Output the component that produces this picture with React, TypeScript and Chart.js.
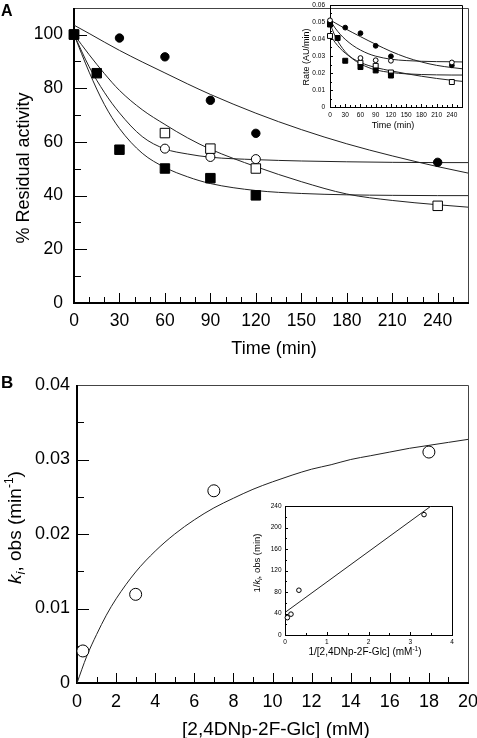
import React, { useEffect, useRef } from "react";
import { Chart, registerables } from "chart.js";
Chart.register(...registerables);

const FAMILY = '"Liberation Sans", Arial, sans-serif';

// ---------- Panel A (main) ----------
const timeTicksA = [0, 30, 60, 90, 120, 150, 180, 210, 240];
const residTicksA = [0, 20, 40, 60, 80, 100];
const fsTimeA = [0, 15, 30, 60, 90, 120];
const fsResidA = [100, 85.6, 57.1, 50.1, 46.5, 40.1];
const fcTimeA = [0, 30, 60, 90, 120, 240];
const fcResidA = [100, 98.7, 91.7, 75.5, 63.2, 52.4];
const osTimeA = [0, 60, 90, 120, 240];
const osResidA = [100, 63.3, 57.5, 50.1, 36.2];
const ocTimeA = [0, 60, 90, 120];
const ocResidA = [100, 57.5, 54.4, 53.6];
const fitTimeA = [0, 10, 20, 30, 45, 60, 75, 90, 120, 150, 180, 210, 240, 260];
const fcFitA = [103.5, 100.4, 97.2, 94.1, 89.8, 85.7, 81.6, 77.7, 70.7, 64.6, 59.3, 54.8, 50.8, 48.4];
const ocFitA = [100, 88, 78.5, 70.8, 62, 57.4, 55.5, 54.3, 53.4, 52.9, 52.6, 52.4, 52.3, 52.3];
const osFitA = [100, 92.5, 85.5, 79.2, 72, 66.5, 61.5, 57.3, 50.8, 45.2, 40.6, 38.2, 36.6, 35.7];
const fsFitA = [100, 86, 74, 65, 55.8, 50.5, 47, 44.5, 41.9, 40.8, 40.3, 40.1, 40, 40];

// ---------- Panel A (inset) ----------
const timeTicksIn = [0, 30, 60, 90, 120, 150, 180, 210, 240];
const rateTicksIn = [0, 0.01, 0.02, 0.03, 0.04, 0.05, 0.06];
const fcTimeIn = [0, 30, 60, 90, 120, 240];
const fcRateIn = [0.05, 0.0467, 0.0434, 0.036, 0.0298, 0.0245];
const ocTimeIn = [0, 60, 90, 120, 240];
const ocRateIn = [0.051, 0.0288, 0.0275, 0.0272, 0.0262];
const osTimeIn = [0, 60, 90, 120, 240];
const osRateIn = [0.0418, 0.026, 0.0242, 0.0203, 0.0147];
const fsTimeIn = [0, 15, 30, 60, 90, 120];
const fsRateIn = [0.0485, 0.0406, 0.0272, 0.0235, 0.0215, 0.0185];
const fcFitIn = [0.0512, 0.0495, 0.0478, 0.0461, 0.0437, 0.0414, 0.0391, 0.0369, 0.0327, 0.0292, 0.0265, 0.0245, 0.0232, 0.0225];
const ocFitIn = [0.0512, 0.0465, 0.0428, 0.0398, 0.0362, 0.0335, 0.0314, 0.0299, 0.0281, 0.0273, 0.0269, 0.0267, 0.0266, 0.0265];
const osFitIn = [0.0425, 0.038, 0.0345, 0.0317, 0.0285, 0.0262, 0.0245, 0.0232, 0.0213, 0.0196, 0.0181, 0.0168, 0.0157, 0.0151];
const fsFitIn = [0.049, 0.0418, 0.0365, 0.0325, 0.0282, 0.0254, 0.0233, 0.0218, 0.0203, 0.0195, 0.0191, 0.0189, 0.0188, 0.0188];

// ---------- Panel B (main) ----------
const concTicksB = [0, 2, 4, 6, 8, 10, 12, 14, 16, 18, 20];
const kTicksB = [0, 0.01, 0.02, 0.03, 0.04];
const concB = [0.3, 3, 7, 18];
const kObsB = [0.0043, 0.0119, 0.0258, 0.031];
const fitConcB = [0, 0.5, 1, 1.5, 2, 3, 4, 5, 6, 7, 8, 9, 10, 11, 12, 13, 14, 15, 16, 17, 18, 19, 20];
const fitKB = [0, 0.0036, 0.0065, 0.0091, 0.0113, 0.0149, 0.0177, 0.02, 0.0219, 0.0235, 0.0248, 0.026, 0.027, 0.0279, 0.0287, 0.0293, 0.03, 0.0305, 0.031, 0.0315, 0.0319, 0.0323, 0.0327];

// ---------- Panel B (inset) ----------
const invConcTicks = [0, 1, 2, 3, 4];
const invKTicks = [0, 40, 80, 120, 160, 200, 240];
const invConc = [0.056, 0.143, 0.333, 3.33];
const invK = [32.3, 38.8, 83.3, 224];
const lineInvConc = [0.02, 3.5];
const lineInvK = [43, 240];

type AxisSpec = {
  min: number; max: number; majors: number[]; minorStep: number;
  majorLen: number; minorLen: number; fontSize: number; pad: number;
};
type TextPart = { t: string; size: number; style?: string; weight?: string; dy?: number };
type TextItem = { x: number; y: number; rot?: boolean; align?: "center" | "left"; parts: TextPart[] };
type Spec = {
  W: number; H: number;
  area: { l: number; t: number; r: number; b: number };
  x: AxisSpec; y: AxisSpec;
  datasets: any[]; texts: TextItem[];
  axisW: number; frameW: number; frameColor: string;
};

const pts = (xs: number[], ys: number[]) => xs.map((x, i) => ({ x, y: ys[i] }));
const markers = (xs: number[], ys: number[], style: string, filled: boolean, r: number) => ({
  data: pts(xs, ys), pointStyle: style, pointRadius: r, pointHoverRadius: r,
  pointBackgroundColor: filled ? "#000" : "#fff", pointBorderColor: "#000",
  pointBorderWidth: 1, showLine: false, clip: false,
});
const curve = (xs: number[], ys: number[]) => ({
  data: pts(xs, ys), showLine: true, pointRadius: 0, pointHoverRadius: 0,
  borderColor: "#222", borderWidth: 1, cubicInterpolationMode: "monotone", fill: false,
});

function minorVals(ax: AxisSpec) {
  const out: number[] = [];
  const n = Math.round((ax.max - ax.min) / ax.minorStep);
  for (let k = 0; k <= n; k++) {
    const v = Math.round((ax.min + k * ax.minorStep) * 1e6) / 1e6;
    if (ax.majors.some((m) => Math.abs(m - v) < 1e-9)) continue;
    if (v >= ax.max - 1e-9) continue;
    out.push(v);
  }
  return out;
}

function fontStr(p: TextPart) {
  return `${p.style || "normal"} ${p.weight || "normal"} ${p.size}px ${FAMILY}`;
}

function makeChart(canvas: HTMLCanvasElement, spec: Spec) {
  const { area } = spec;
  const deco = {
    id: "deco",
    beforeDatasetsDraw(chart: any) {
      const ctx = chart.ctx as CanvasRenderingContext2D;
      const xs = chart.scales.x;
      const ys = chart.scales.y;
      const { left: l, right: r, top: t, bottom: b } = chart.chartArea;
      ctx.save();
      ctx.strokeStyle = "#000";
      ctx.lineWidth = 1;
      ctx.beginPath();
      const xt = (v: number, len: number) => {
        const px = Math.round(xs.getPixelForValue(v)) + 0.5;
        ctx.moveTo(px, b);
        ctx.lineTo(px, b - len);
      };
      const yt = (v: number, len: number) => {
        const py = Math.round(ys.getPixelForValue(v)) + 0.5;
        ctx.moveTo(l, py);
        ctx.lineTo(l + len, py);
      };
      spec.x.majors.forEach((v) => xt(v, spec.x.majorLen));
      minorVals(spec.x).forEach((v) => xt(v, spec.x.minorLen));
      spec.y.majors.forEach((v) => yt(v, spec.y.majorLen));
      minorVals(spec.y).forEach((v) => yt(v, spec.y.minorLen));
      ctx.stroke();
      ctx.strokeStyle = spec.frameColor;
      ctx.lineWidth = spec.frameW;
      ctx.beginPath();
      const o = spec.frameW % 2 === 1 ? 0.5 : 0;
      ctx.moveTo(l, Math.round(t) + o);
      ctx.lineTo(Math.round(r) + o, Math.round(t) + o);
      ctx.lineTo(Math.round(r) + o, b);
      ctx.stroke();
      ctx.strokeStyle = "#000";
      ctx.lineWidth = spec.axisW;
      const oa = spec.axisW % 2 === 1 ? 0.5 : 0;
      ctx.beginPath();
      ctx.moveTo(Math.round(l) + oa, Math.round(t));
      ctx.lineTo(Math.round(l) + oa, Math.round(b) + oa);
      ctx.lineTo(Math.round(r) + 1, Math.round(b) + oa);
      ctx.stroke();
      ctx.restore();
    },
    afterDraw(chart: any) {
      const ctx = chart.ctx as CanvasRenderingContext2D;
      ctx.save();
      ctx.fillStyle = "#000";
      ctx.textBaseline = "alphabetic";
      ctx.textAlign = "left";
      spec.texts.forEach((it) => {
        ctx.save();
        ctx.translate(it.x, it.y);
        if (it.rot) ctx.rotate(-Math.PI / 2);
        let total = 0;
        const widths = it.parts.map((p) => {
          ctx.font = fontStr(p);
          const w = ctx.measureText(p.t).width;
          total += w;
          return w;
        });
        let cx = it.align === "left" ? 0 : -total / 2;
        it.parts.forEach((p, i) => {
          ctx.font = fontStr(p);
          ctx.fillText(p.t, cx, p.dy || 0);
          cx += widths[i];
        });
        ctx.restore();
      });
      ctx.restore();
    },
  };

  const scaleCfg = (ax: AxisSpec, isX: boolean) => ({
    type: "linear",
    position: isX ? "bottom" : "left",
    min: ax.min,
    max: ax.max,
    afterBuildTicks: (s: any) => {
      s.ticks = ax.majors.map((v) => ({ value: v }));
    },
    afterFit: (s: any) => {
      if (isX) s.height = spec.H - area.b;
      else s.width = area.l;
      s.paddingLeft = 0;
      s.paddingRight = 0;
      s.paddingTop = 0;
      s.paddingBottom = 0;
    },
    ticks: {
      autoSkip: false,
      maxRotation: 0,
      minRotation: 0,
      padding: ax.pad,
      color: "#000",
      font: { family: FAMILY, size: ax.fontSize },
      callback: (_v: any, i: number) => String(ax.majors[i]),
    },
    grid: { display: false, drawTicks: false, tickLength: 0 },
    border: { display: false },
  });

  return new Chart(canvas, {
    type: "scatter",
    data: { datasets: spec.datasets },
    options: {
      responsive: false,
      animation: false,
      devicePixelRatio: 1,
      events: [],
      layout: { padding: { left: 0, top: area.t, right: spec.W - area.r, bottom: 0 } },
      plugins: { legend: { display: false }, tooltip: { enabled: false } },
      scales: { x: scaleCfg(spec.x, true), y: scaleCfg(spec.y, false) } as any,
    },
    plugins: [deco],
  } as any);
}

const specMainA: Spec = {
  W: 477, H: 370,
  area: { l: 74, t: 2, r: 468, b: 303 },
  x: { min: 0, max: 260, majors: timeTicksA, minorStep: 10, majorLen: 10, minorLen: 6, fontSize: 17.5, pad: 8 },
  y: { min: 0, max: 110, majors: residTicksA, minorStep: 10, majorLen: 13, minorLen: 7, fontSize: 17.5, pad: 11 },
  datasets: [
    markers(fsTimeA, fsResidA, "rect", true, 6.7),
    markers(fcTimeA, fcResidA, "circle", true, 4.2),
    markers(osTimeA, osResidA, "rect", false, 6.7),
    markers(ocTimeA, ocResidA, "circle", false, 4.5),
    curve(fitTimeA, fcFitA),
    curve(fitTimeA, ocFitA),
    curve(fitTimeA, osFitA),
    curve(fitTimeA, fsFitA),
  ],
  texts: [
    { x: 1, y: 16, align: "left", parts: [{ t: "A", size: 16, weight: "bold" }] },
    { x: 29, y: 168, rot: true, parts: [{ t: "% Residual activity", size: 18 }] },
    { x: 274, y: 354, parts: [{ t: "Time (min)", size: 18 }] },
  ],
  axisW: 2, frameW: 1, frameColor: "#444",
};

const specInsetA: Spec = {
  W: 187, H: 140,
  area: { l: 40, t: 5, r: 172, b: 107 },
  x: { min: 0, max: 260, majors: timeTicksIn, minorStep: 10, majorLen: 3, minorLen: 2, fontSize: 6.5, pad: 4 },
  y: { min: 0, max: 0.06, majors: rateTicksIn, minorStep: 0.005, majorLen: 3, minorLen: 2, fontSize: 6.5, pad: 5 },
  datasets: [
    markers(ocTimeIn, ocRateIn, "circle", false, 2.4),
    markers(fsTimeIn, fsRateIn, "rect", true, 3.5),
    markers(fcTimeIn, fcRateIn, "circle", true, 2.4),
    markers(osTimeIn, osRateIn, "rect", false, 3.5),
    curve(fitTimeA, fcFitIn),
    curve(fitTimeA, ocFitIn),
    curve(fitTimeA, osFitIn),
    curve(fitTimeA, fsFitIn),
  ],
  texts: [
    { x: 103, y: 127.5, parts: [{ t: "Time (min)", size: 9 }] },
    { x: 19, y: 57, rot: true, parts: [{ t: "Rate (AU/min)", size: 9 }] },
  ],
  axisW: 1, frameW: 1, frameColor: "#000",
};

const specMainB: Spec = {
  W: 477, H: 368,
  area: { l: 77, t: 15, r: 468, b: 313 },
  x: { min: 0, max: 20, majors: concTicksB, minorStep: 1, majorLen: 10, minorLen: 6, fontSize: 18, pad: 8 },
  y: { min: 0, max: 0.04, majors: kTicksB, minorStep: 0.005, majorLen: 12, minorLen: 7, fontSize: 18, pad: 7 },
  datasets: [
    markers(concB, kObsB, "circle", false, 6),
    curve(fitConcB, fitKB),
  ],
  texts: [
    { x: 1, y: 18, align: "left", parts: [{ t: "B", size: 17, weight: "bold" }] },
    {
      x: 21, y: 157.5, rot: true,
      parts: [
        { t: "k", size: 19, style: "italic" },
        { t: "i", size: 13, style: "italic", dy: 4 },
        { t: ", obs (min", size: 19 },
        { t: "-1", size: 12, dy: -8 },
        { t: ")", size: 19 },
      ],
    },
    { x: 276, y: 364.5, parts: [{ t: "[2,4DNp-2F-Glc] (mM)", size: 19 }] },
  ],
  axisW: 2, frameW: 1, frameColor: "#444",
};

const specInsetB: Spec = {
  W: 220, H: 170,
  area: { l: 35, t: 11, r: 202, b: 140 },
  x: { min: 0, max: 4, majors: invConcTicks, minorStep: 0.5, majorLen: 3, minorLen: 2, fontSize: 6.5, pad: 3 },
  y: { min: 0, max: 240, majors: invKTicks, minorStep: 20, majorLen: 3, minorLen: 2, fontSize: 6.5, pad: 3.5 },
  datasets: [
    markers(invConc, invK, "circle", false, 2.3),
    curve(lineInvConc, lineInvK),
  ],
  texts: [
    {
      x: 115, y: 160,
      parts: [
        { t: "1/[2,4DNp-2F-Glc] (mM", size: 10 },
        { t: "-1", size: 6.5, dy: -4 },
        { t: ")", size: 10 },
      ],
    },
    {
      x: 10, y: 68, rot: true,
      parts: [
        { t: "1/", size: 9.5 },
        { t: "k", size: 9.5, style: "italic" },
        { t: "i", size: 6.5, style: "italic", dy: 2 },
        { t: ", obs (min)", size: 9.5 },
      ],
    },
  ],
  axisW: 1, frameW: 1, frameColor: "#000",
};

function ChartCanvas({ left, top, spec }: { left: number; top: number; spec: Spec }) {
  const ref = useRef<HTMLCanvasElement>(null);
  useEffect(() => {
    const chart = makeChart(ref.current as HTMLCanvasElement, spec);
    return () => chart.destroy();
  }, []);
  return (
    <canvas
      ref={ref}
      width={spec.W}
      height={spec.H}
      style={{ position: "absolute", left, top, width: spec.W, height: spec.H }}
    />
  );
}

export default function App() {
  return (
    <div style={{ position: "absolute", left: 0, top: 0, width: 477, height: 738, background: "#fff", overflow: "hidden" }}>
      <ChartCanvas left={0} top={0} spec={specMainA} />
      <ChartCanvas left={0} top={370} spec={specMainB} />
      <ChartCanvas left={290} top={0} spec={specInsetA} />
      <ChartCanvas left={250} top={495} spec={specInsetB} />
    </div>
  );
}
